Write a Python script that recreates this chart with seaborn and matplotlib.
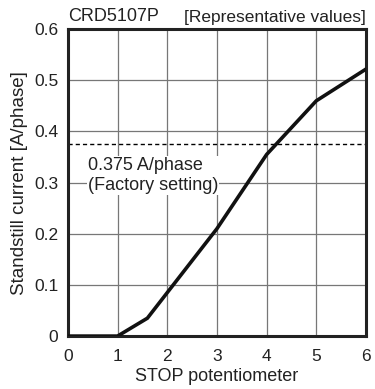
import pandas as pd
import seaborn as sns
import matplotlib
matplotlib.use("Agg")
import matplotlib.pyplot as plt

# readings
stop_pot = [0, 1, 1.6, 3, 4, 5, 6]
current = [0, 0, 0.035, 0.21, 0.355, 0.46, 0.522]
x_ticks = [0, 1, 2, 3, 4, 5, 6]
y_ticks = [0, 0.1, 0.2, 0.3, 0.4, 0.5, 0.6]
y_labels = ["0", "0.1", "0.2", "0.3", "0.4", "0.5", "0.6"]
factory_setting = 0.375

sns.set_style("white")
plt.rcParams["font.family"] = ["Liberation Sans", "DejaVu Sans"]
plt.rcParams["text.color"] = "#222222"
plt.rcParams["axes.labelcolor"] = "#222222"

df = pd.DataFrame({"pot": stop_pot, "current": current})

fig = plt.figure(figsize=(3.75, 3.89), dpi=100)
ax = fig.add_axes([0.181, 0.136, 0.795, 0.789])

ax.grid(True, color="#777777", linewidth=0.9)
ax.set_axisbelow(True)

ax.axhline(factory_setting, color="black", linewidth=1.0, linestyle=(0, (3, 2.2)), zorder=2)
ax.text(0.4, 0.314, "0.375 A/phase\n(Factory setting)", fontsize=13, ha="left", va="center",
        linespacing=1.3, bbox=dict(facecolor="white", edgecolor="none", pad=0.5), zorder=3)

sns.lineplot(data=df, x="pot", y="current", ax=ax, color="#111111", linewidth=2.6,
             solid_joinstyle="miter", zorder=4)

ax.set_xlim(0, 6)
ax.set_ylim(0, 0.6)
ax.set_xticks(x_ticks)
ax.set_yticks(y_ticks)
ax.set_yticklabels(y_labels)
ax.tick_params(length=0, labelsize=12.5, colors="#222222")
ax.tick_params(axis="x", pad=9)
ax.tick_params(axis="y", pad=7)
ax.set_xlabel("STOP potentiometer", fontsize=13, labelpad=3)
ax.set_ylabel("Standstill current [A/phase]", fontsize=13.5, labelpad=4)

for s in ax.spines.values():
    s.set_color("#222222")
    s.set_linewidth(2.2)
    s.set_visible(True)

ax.text(0.0, 1.015, "CRD5107P", transform=ax.transAxes, fontsize=13, ha="left", va="bottom")
ax.text(1.0, 1.015, "[Representative values]", transform=ax.transAxes, fontsize=12.5,
        ha="right", va="bottom")

fig.savefig("out.png", dpi=100)
